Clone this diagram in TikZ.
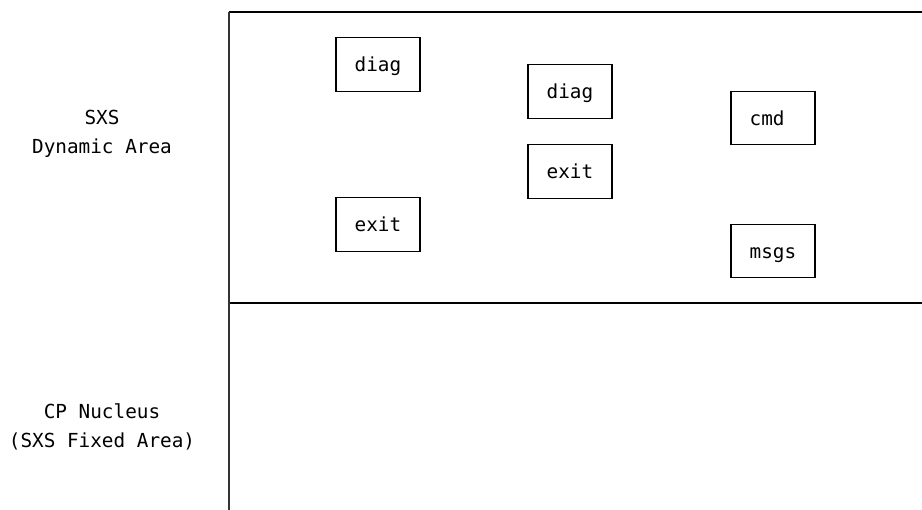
\documentclass[tikz,border=0pt]{standalone}
\usepackage{fontspec}
\setmonofont{DejaVu Sans Mono}
\tikzset{
  area/.style={font=\ttfamily\fontsize{14.5}{21.75}\selectfont, align=center},
  modbox/.style={draw, line width=0.9pt, minimum width=63pt, minimum height=40pt,
    text width=35pt, text height=11pt, text depth=0pt, align=left, inner sep=0pt,
    font=\ttfamily\fontsize{14.5}{17}\selectfont}
}
\begin{document}
\begin{tikzpicture}[x=0.75pt, y=-0.75pt]
      \useasboundingbox (0,0) rectangle (922,510);
      \coordinate (tl) at (229,12);
      \coordinate (tr) at (922,12);
      \coordinate (ml) at (229,303);
      \coordinate (mr) at (922,303);
      \coordinate (bl) at (229,510);
      \draw[line width=1pt] (tl) -- (tr);
      \draw[line width=1pt] (ml) -- (mr);
      \draw[line width=1.3pt, black!80] (tl) -- (bl);
      \draw
        (102,134) node[area] (dyn){SXS\\Dynamic Area}
        (102,427) node[area] (nuc){CP Nucleus\\(SXS Fixed Area)}
        (378,64.5) node[modbox] (diagA){diag}
        (378,224.5) node[modbox] (exitA){exit}
        (570,91.5) node[modbox] (diagB){diag}
        (570,171.5) node[modbox] (exitB){exit}
        (773,118) node[modbox] (cmd){cmd}
        (773,251) node[modbox] (msgs){msgs};
    \end{tikzpicture}
\end{document}
